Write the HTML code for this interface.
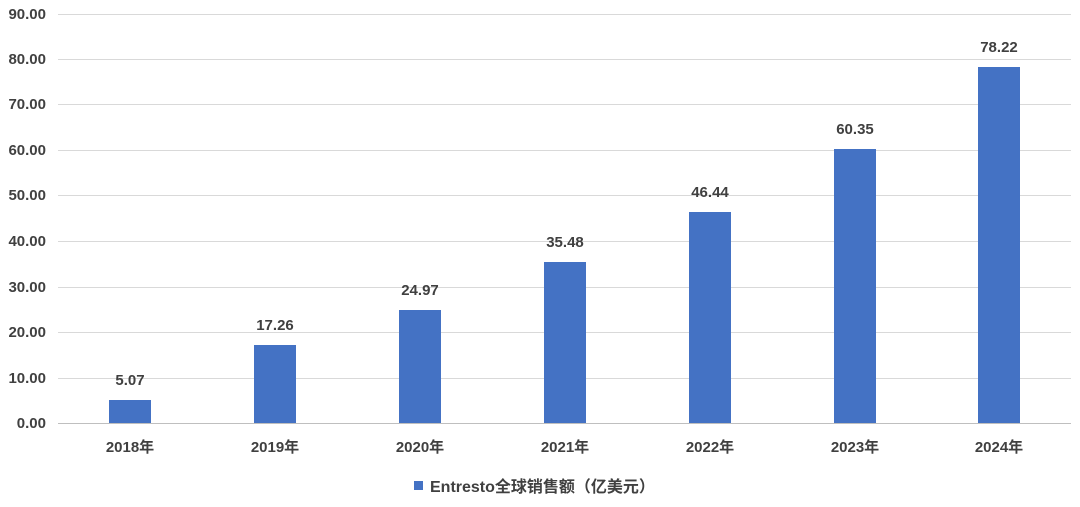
<!DOCTYPE html>
<html><head><meta charset="utf-8"><style>
html,body{margin:0;padding:0;background:#fff;}
svg{display:block;}
text{font-family:"Liberation Sans","Noto Sans CJK SC",sans-serif;font-weight:bold;fill:#404040;font-size:15px;}
</style></head><body>
<svg width="1080" height="507" viewBox="0 0 1080 507">
<g stroke="#d9d9d9" stroke-width="1">
<line x1="58" x2="1071" y1="14.5" y2="14.5"/>
<line x1="58" x2="1071" y1="59.5" y2="59.5"/>
<line x1="58" x2="1071" y1="104.5" y2="104.5"/>
<line x1="58" x2="1071" y1="150.5" y2="150.5"/>
<line x1="58" x2="1071" y1="195.5" y2="195.5"/>
<line x1="58" x2="1071" y1="241.5" y2="241.5"/>
<line x1="58" x2="1071" y1="287.5" y2="287.5"/>
<line x1="58" x2="1071" y1="332.5" y2="332.5"/>
<line x1="58" x2="1071" y1="378.5" y2="378.5"/>
<line x1="58" x2="1071" y1="423.5" y2="423.5" stroke="#bfbfbf"/>
</g>
<g text-anchor="end">
<text x="46" y="19">90.00</text>
<text x="46" y="64">80.00</text>
<text x="46" y="109">70.00</text>
<text x="46" y="155">60.00</text>
<text x="46" y="200">50.00</text>
<text x="46" y="246">40.00</text>
<text x="46" y="292">30.00</text>
<text x="46" y="337">20.00</text>
<text x="46" y="383">10.00</text>
<text x="46" y="428">0.00</text>
</g>
<g fill="#4472c4">
<rect x="109" y="400" width="42" height="23"/>
<rect x="254" y="345" width="42" height="78"/>
<rect x="399" y="310" width="42" height="113"/>
<rect x="544" y="262" width="42" height="161"/>
<rect x="689" y="212" width="42" height="211"/>
<rect x="834" y="149" width="42" height="274"/>
<rect x="978" y="67" width="42" height="356"/>
</g>
<g text-anchor="middle">
<text x="130" y="385">5.07</text>
<text x="275" y="330">17.26</text>
<text x="420" y="295">24.97</text>
<text x="565" y="247">35.48</text>
<text x="710" y="197">46.44</text>
<text x="855" y="134">60.35</text>
<text x="999" y="52">78.22</text>
<text x="130" y="452">2018年</text>
<text x="275" y="452">2019年</text>
<text x="420" y="452">2020年</text>
<text x="565" y="452">2021年</text>
<text x="710" y="452">2022年</text>
<text x="855" y="452">2023年</text>
<text x="999" y="452">2024年</text>
</g>
<rect x="414" y="481" width="9" height="9" fill="#4472c4"/>
<text x="430" y="492" style="font-size:16px">Entresto全球销售额（亿美元）</text>
</svg>
</body></html>
